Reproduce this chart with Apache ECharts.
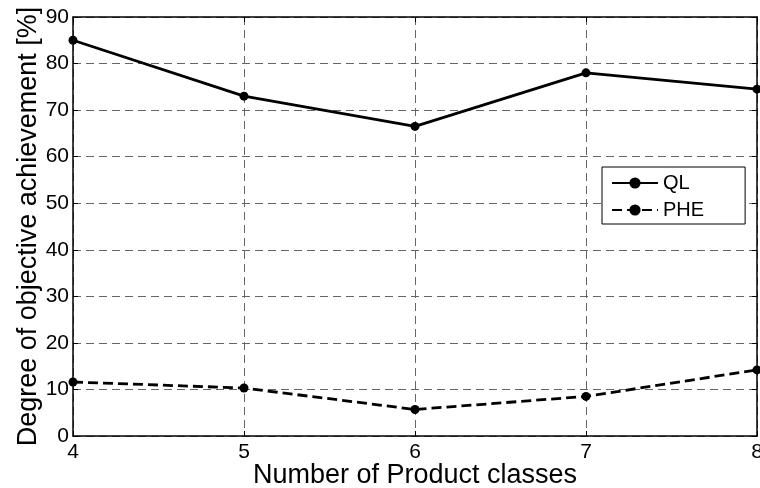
<!DOCTYPE html>
<html>
<head>
<meta charset="utf-8">
<script src="https://cdn.jsdelivr.net/npm/echarts@6/dist/echarts.min.js"></script>
<style>
  html, body { margin: 0; padding: 0; background: #fff; }
  #chart { width: 760px; height: 488px; }
</style>
</head>
<body>
<div id="chart"></div>
<script>
// Number of product classes on the x axis
const productClasses = [4, 5, 6, 7, 8];
// Degree of objective achievement [%] per method
const qlValues = [85.0, 73.0, 66.5, 78.0, 74.5];
const pheValues = [11.6, 10.3, 5.7, 8.5, 14.2];
const seriesNames = ['QL', 'PHE'];
const xTitle = 'Number of Product classes';
const yTitle = 'Degree of objective achievement [%]';

const FONT = '"Liberation Sans", Arial, Helvetica, sans-serif';
const toPairs = vals => productClasses.map((x, i) => [x, vals[i]]);

const gridLine = { show: true, lineStyle: { color: '#666', width: 1, type: [8, 5] } };
const frameLine = { show: true, onZero: false, lineStyle: { color: '#000', width: 1.5 } };
const innerTick = { show: true, inside: true, length: 5, lineStyle: { color: '#000', width: 1 } };

const chart = echarts.init(document.getElementById('chart'), null, { renderer: 'canvas' });
chart.setOption({
  backgroundColor: '#fff',
  animation: false,
  textStyle: { fontFamily: FONT, color: '#000' },
  grid: { left: 73, right: 3, top: 17, bottom: 52, containLabel: false, outerBoundsMode: 'none' },
  legend: {
    orient: 'vertical',
    left: 602,
    top: 167,
    padding: [6, 41, 4, 9],
    itemWidth: 46,
    itemHeight: 14,
    itemGap: 7,
    backgroundColor: '#fff',
    borderColor: '#000',
    borderWidth: 1,
    borderRadius: 0,
    textStyle: { fontSize: 20, color: '#000', fontFamily: FONT },
    data: seriesNames
  },
  xAxis: [{
    type: 'value',
    min: 4, max: 8, interval: 1,
    name: xTitle,
    nameLocation: 'middle',
    nameGap: 26,
    nameMoveOverlap: false,
    nameTextStyle: { fontSize: 27, color: '#000', fontFamily: FONT },
    axisLine: frameLine,
    axisTick: innerTick,
    axisLabel: { fontSize: 21, color: '#000', margin: 6, fontFamily: FONT },
    splitLine: gridLine
  }, {
    type: 'value',
    position: 'top',
    min: 4, max: 8, interval: 1,
    axisLine: frameLine,
    axisTick: innerTick,
    axisLabel: { show: false },
    splitLine: { show: false }
  }],
  yAxis: [{
    type: 'value',
    min: 0, max: 90, interval: 10,
    name: yTitle,
    nameLocation: 'middle',
    nameGap: 31,
    nameMoveOverlap: false,
    nameRotate: 90,
    nameTextStyle: { fontSize: 27, color: '#000', fontFamily: FONT },
    axisLine: frameLine,
    axisTick: innerTick,
    axisLabel: { fontSize: 21, color: '#000', margin: 4, fontFamily: FONT },
    splitLine: gridLine
  }, {
    type: 'value',
    position: 'right',
    min: 0, max: 90, interval: 10,
    axisLine: frameLine,
    axisTick: innerTick,
    axisLabel: { show: false },
    splitLine: { show: false }
  }],
  series: [{
    name: seriesNames[0],
    type: 'line',
    data: toPairs(qlValues),
    symbol: 'circle',
    symbolSize: 9,
    itemStyle: { color: '#000' },
    lineStyle: { color: '#000', width: 2.8, type: 'solid' },
    z: 5
  }, {
    name: seriesNames[1],
    type: 'line',
    data: toPairs(pheValues),
    symbol: 'circle',
    symbolSize: 9,
    itemStyle: { color: '#000' },
    lineStyle: { color: '#000', width: 2.8, type: [10, 5] },
    z: 5
  }]
});
</script>
</body>
</html>
